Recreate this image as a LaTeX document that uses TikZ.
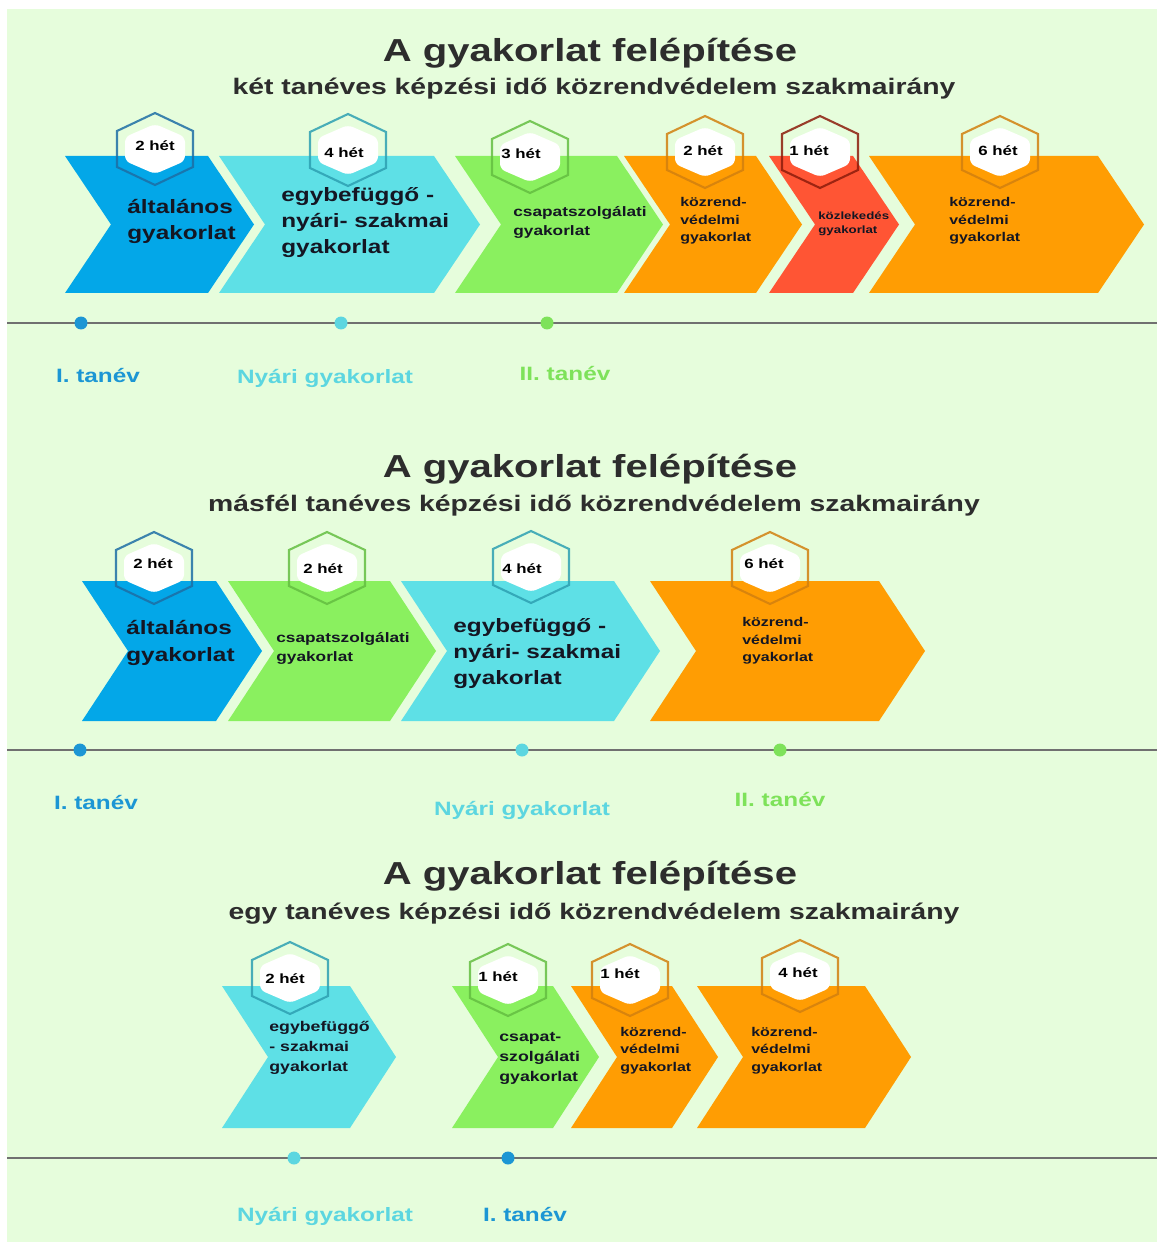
\documentclass[tikz,border=0pt]{standalone}
\usepackage{fontspec}
\setmainfont[FakeStretch=1.26]{Liberation Sans}
\usetikzlibrary{positioning}

\definecolor{bggreen}{RGB}{230,253,220}
\definecolor{cblue}{RGB}{3,167,232}
\definecolor{ccyan}{RGB}{94,224,230}
\definecolor{cgreen}{RGB}{138,240,95}
\definecolor{corange}{RGB}{255,157,3}
\definecolor{cred}{RGB}{255,85,52}
\definecolor{hblue}{RGB}{30,110,165}
\definecolor{hcyan}{RGB}{45,160,178}
\definecolor{hgreen}{RGB}{100,190,65}
\definecolor{horange}{RGB}{210,128,15}
\definecolor{hred}{RGB}{140,28,12}
\definecolor{titlegray}{RGB}{45,45,45}
\definecolor{txtdark}{RGB}{20,22,35}
\definecolor{lblue}{RGB}{28,150,212}
\definecolor{lcyan}{RGB}{92,214,224}
\definecolor{lgreen}{RGB}{126,226,90}
\definecolor{linegray}{RGB}{112,112,112}

\begin{document}
\begin{tikzpicture}[x=0.02cm, y=-0.02cm,
	titletxt/.style={font=\fontsize{18.1}{20}\selectfont\bfseries, text=titlegray, anchor=base, inner sep=0},
	subtxt/.style={font=\fontsize{12.8}{15}\selectfont\bfseries, text=titlegray, anchor=base, inner sep=0},
	hextxt/.style={font=\fontsize{7.6}{9}\selectfont\bfseries, inner sep=0},
	bigtxt/.style={font=\fontsize{11}{14.9}\selectfont\bfseries, text=txtdark, align=left, anchor=west, inner sep=0},
	smalltxt/.style={font=\fontsize{7.8}{10.8}\selectfont\bfseries, text=txtdark, align=left, anchor=west, inner sep=0},
	midtxt/.style={font=\fontsize{8}{11.4}\selectfont\bfseries, text=txtdark, align=left, anchor=west, inner sep=0},
	kozrtxt/.style={font=\fontsize{7.2}{9.9}\selectfont\bfseries, text=txtdark, align=left, anchor=west, inner sep=0},
	tinytxt/.style={font=\fontsize{6}{7.9}\selectfont\bfseries, text=txtdark, align=left, anchor=west, inner sep=0},
	yearlbl/.style={font=\fontsize{11}{13}\selectfont\bfseries, anchor=base, inner sep=0},
	tline/.style={linegray, line width=0.9pt},
	dot/.style={circle, inner sep=0, minimum size=0.26cm}]

	\useasboundingbox (0,0) rectangle (1157,1243);
	\fill[white] (0,0) rectangle (1157,1243);
	\fill[bggreen] (7,9) rectangle (1157,1242);

	% panel 1: ket taneves
	\foreach \xl/\xr/\c in {65/208/cblue, 219/434/ccyan, 455/617/cgreen, 624/756/corange, 769/853/cred, 869/1098/corange}
		\fill[\c] (\xl,156) -- (\xr,156) -- (\xr+46,224.5) -- (\xr,293) -- (\xl,293) -- (\xl+46,224.5) -- cycle;
	\foreach \x/\y/\c/\tx/\ty/\txt [count=\i] in {155/149/hblue/155/146/2 hét, 348/150/hcyan/344/153/4 hét, 530/157/hgreen/521/154/3 hét, 705/152/horange/703/151/2 hét, 820/152/hred/809/151/1 hét, 1000/152/horange/998/151/6 hét} {
		\draw[\c, line width=1.2pt, opacity=0.85] (\x,\y-36) -- (\x+38,\y-18) -- (\x+38,\y+18) -- (\x,\y+36) -- (\x-38,\y+18) -- (\x-38,\y-18) -- cycle;
		\fill[white, rounded corners=3] (\x,\y-25) -- (\x+30,\y-12) -- (\x+30,\y+12) -- (\x,\y+25) -- (\x-30,\y+12) -- (\x-30,\y-12) -- cycle;
		\node[hextxt] (hexA\i) at (\tx,\ty) {\txt};
	}
	\node[titletxt] (titA) at (590,62) {A gyakorlat felépítése};
	\node[subtxt] (subA) at (594,95) {két tanéves képzési idő közrendvédelem szakmairány};
	\node[bigtxt] (gyA1) at (127,221.5) {általános\\gyakorlat};
	\node[bigtxt] (gyA2) at (281,222.5) {egybefüggő -\\nyári- szakmai\\gyakorlat};
	\node[smalltxt] (gyA3) at (513,222.5) {csapatszolgálati\\gyakorlat};
	\node[kozrtxt] (gyA4) at (680,221) {közrend-\\védelmi\\gyakorlat};
	\node[tinytxt] (gyA5) at (818,224) {közlekedés\\gyakorlat};
	\node[kozrtxt] (gyA6) at (949,221) {közrend-\\védelmi\\gyakorlat};
	\coordinate (lnA0) at (7,323);
	\coordinate (lnA1) at (1157,323);
	\draw[tline] (lnA0) -- (lnA1);
	\node[dot, fill=lblue] (dotA1) at (81,323) {};
	\node[dot, fill=lcyan] (dotA2) at (341,323) {};
	\node[dot, fill=lgreen] (dotA3) at (547,323) {};
	\node[yearlbl, text=lblue] (lbA1) at (98,382) {I. tanév};
	\node[yearlbl, text=lcyan] (lbA2) at (325,383) {Nyári gyakorlat};
	\node[yearlbl, text=lgreen] (lbA3) at (565,380) {II. tanév};

	% panel 2: masfel taneves
	\foreach \xl/\xr/\c in {82/216/cblue, 228/390/cgreen, 401/614/ccyan, 650/879/corange}
		\fill[\c] (\xl,581) -- (\xr,581) -- (\xr+46,651) -- (\xr,721) -- (\xl,721) -- (\xl+46,651) -- cycle;
	\foreach \x/\y/\c/\tx/\ty/\txt [count=\i] in {154/568/hblue/153/564/2 hét, 327/568/hgreen/323/569/2 hét, 531/567/hcyan/522/569/4 hét, 770/568/horange/764/564/6 hét} {
		\draw[\c, line width=1.2pt, opacity=0.85] (\x,\y-36) -- (\x+38,\y-18) -- (\x+38,\y+18) -- (\x,\y+36) -- (\x-38,\y+18) -- (\x-38,\y-18) -- cycle;
		\fill[white, rounded corners=3] (\x,\y-25) -- (\x+30,\y-12) -- (\x+30,\y+12) -- (\x,\y+25) -- (\x-30,\y+12) -- (\x-30,\y-12) -- cycle;
		\node[hextxt] (hexB\i) at (\tx,\ty) {\txt};
	}
	\node[titletxt] (titB) at (590,477) {A gyakorlat felépítése};
	\node[subtxt] (subB) at (594,511) {másfél tanéves képzési idő közrendvédelem szakmairány};
	\node[bigtxt] (gyB1) at (126,643) {általános\\gyakorlat};
	\node[smalltxt] (gyB2) at (276,648.5) {csapatszolgálati\\gyakorlat};
	\node[bigtxt] (gyB3) at (453,653.5) {egybefüggő -\\nyári- szakmai\\gyakorlat};
	\node[kozrtxt] (gyB4) at (742,641) {közrend-\\védelmi\\gyakorlat};
	\coordinate (lnB0) at (7,750);
	\coordinate (lnB1) at (1157,750);
	\draw[tline] (lnB0) -- (lnB1);
	\node[dot, fill=lblue] (dotB1) at (80,750) {};
	\node[dot, fill=lcyan] (dotB2) at (522,750) {};
	\node[dot, fill=lgreen] (dotB3) at (780,750) {};
	\node[yearlbl, text=lblue] (lbB1) at (96,809) {I. tanév};
	\node[yearlbl, text=lcyan] (lbB2) at (522,815) {Nyári gyakorlat};
	\node[yearlbl, text=lgreen] (lbB3) at (780,806) {II. tanév};

	% panel 3: egy taneves
	\foreach \xl/\xr/\c in {222/350/ccyan, 452/553/cgreen, 571/672/corange, 697/865/corange}
		\fill[\c] (\xl,986) -- (\xr,986) -- (\xr+46,1057) -- (\xr,1128) -- (\xl,1128) -- (\xl+46,1057) -- cycle;
	\foreach \x/\y/\c/\tx/\ty/\txt [count=\i] in {290/978/hcyan/285/979/2 hét, 508/980/hgreen/498/977/1 hét, 630/980/horange/620/974/1 hét, 800/976/horange/798/973/4 hét} {
		\draw[\c, line width=1.2pt, opacity=0.85] (\x,\y-36) -- (\x+38,\y-18) -- (\x+38,\y+18) -- (\x,\y+36) -- (\x-38,\y+18) -- (\x-38,\y-18) -- cycle;
		\fill[white, rounded corners=3] (\x,\y-25) -- (\x+30,\y-12) -- (\x+30,\y+12) -- (\x,\y+25) -- (\x-30,\y+12) -- (\x-30,\y-12) -- cycle;
		\node[hextxt] (hexC\i) at (\tx,\ty) {\txt};
	}
	\node[titletxt] (titC) at (590,884) {A gyakorlat felépítése};
	\node[subtxt] (subC) at (594,919) {egy tanéves képzési idő közrendvédelem szakmairány};
	\node[midtxt] (gyC1) at (269,1048) {egybefüggő\\- szakmai\\gyakorlat};
	\node[midtxt] (gyC2) at (499,1058.5) {csapat-\\szolgálati\\gyakorlat};
	\node[kozrtxt] (gyC3) at (620,1050.5) {közrend-\\védelmi\\gyakorlat};
	\node[kozrtxt] (gyC4) at (751,1050.5) {közrend-\\védelmi\\gyakorlat};
	\coordinate (lnC0) at (7,1158);
	\coordinate (lnC1) at (1157,1158);
	\draw[tline] (lnC0) -- (lnC1);
	\node[dot, fill=lcyan] (dotC1) at (294,1158) {};
	\node[dot, fill=lblue] (dotC2) at (508,1158) {};
	\node[yearlbl, text=lcyan] (lbC1) at (325,1221) {Nyári gyakorlat};
	\node[yearlbl, text=lblue] (lbC2) at (525,1221) {I. tanév};
\end{tikzpicture}
\end{document}
